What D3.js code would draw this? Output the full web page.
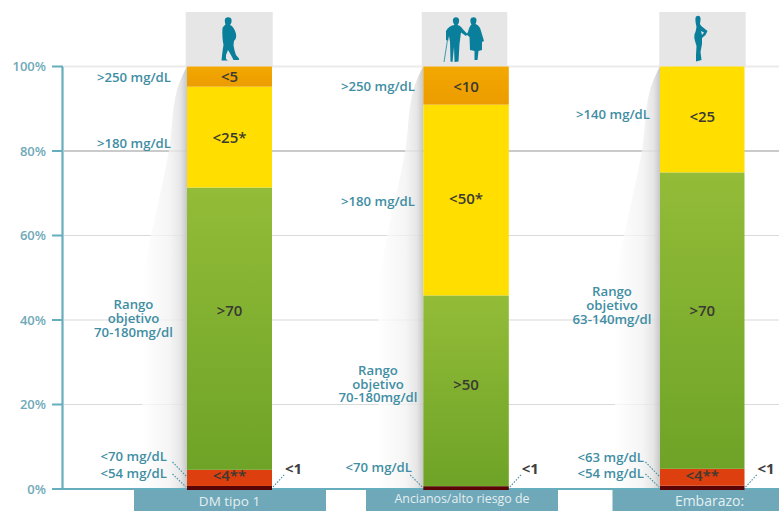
<!DOCTYPE html>
<html lang="es">
<head>
<meta charset="utf-8">
<script src="https://cdn.jsdelivr.net/npm/d3@7"></script>
<style>
html,body{margin:0;padding:0;background:#fff}
svg{display:block}
text{font-family:"Open Sans",sans-serif}
</style>
</head>
<body>
<svg id="chart" width="779" height="511"></svg>
<script>
// Time-in-range targets per patient group, listed from the lowest glucose band up.
const groups = ["DM tipo 1", "Ancianos/alto riesgo de", "Embarazo:"];
const bands = ["veryLow", "low", "target", "high", "veryHigh"];
const bandColors = ["#5a0505", "#dd3f0e", "#84ae2e", "#ffde00", "#f0a400"];

const veryLow = [1, 1, 1];
const low = [4, 0, 4];
const target = [70, 50, 70];
const high = [25, 50, 25];
const veryHigh = [5, 10, 0];

const veryLowText = ["<1", "<1", "<1"];
const lowText = ["<4**", "", "<4**"];
const targetText = [">70", ">50", ">70"];
const highText = ["<25*", "<50*", "<25"];
const veryHighText = ["<5", "<10", ""];

const yTicks = [0, 20, 40, 60, 80, 100];
const thresholdVeryHigh = [">250 mg/dL", ">250 mg/dL", ""];
const thresholdHigh = [">180 mg/dL", ">180 mg/dL", ">140 mg/dL"];
const thresholdLow = ["<70 mg/dL", "", "<63 mg/dL"];
const thresholdVeryLow = ["<54 mg/dL", "<70 mg/dL", "<54 mg/dL"];
const rangeLines = [
  ["Rango", "objetivo", "70-180mg/dl"],
  ["Rango", "objetivo", "70-180mg/dl"],
  ["Rango", "objetivo", "63-140mg/dl"]
];

const teal = "#3f8ea3", axisTeal = "#66aebd";
const svg = d3.select("#chart");

const y = d3.scaleLinear().domain([0, 1]).range([490, 66.5]);
const yPct = d3.scaleLinear().domain([0, 100]).range([489, 66.5]);
const x = d3.scaleOrdinal().domain(groups).range([187, 423.3, 660]);
const barWidths = [85, 85.5, 84.5];
const panelX = [185.7, 421.7, 659.3];
const panelW = [87, 85.6, 86.4];

// Each column is normalised to 100 %, so the "less than" targets share the height.
const rows = groups.map((g, i) => ({
  group: g, index: i, veryLow: veryLow[i], low: low[i], target: target[i], high: high[i], veryHigh: veryHigh[i]
}));
const stacked = d3.stack().keys(bands).offset(d3.stackOffsetExpand)(rows);
const texts = {veryLow: veryLowText, low: lowText, target: targetText, high: highText, veryHigh: veryHighText};

const defs = svg.append("defs");
const grad = (id, top, bottom) => {
  const g = defs.append("linearGradient").attr("id", id).attr("x1", 0).attr("x2", 0).attr("y1", 0).attr("y2", 1);
  g.append("stop").attr("offset", "0%").attr("stop-color", top);
  g.append("stop").attr("offset", "100%").attr("stop-color", bottom);
};
grad("fill-target", "#93bc38", "#6ea327");
grad("fill-veryHigh", "#f3a800", "#ec9c00");
const wedgeFade = defs.append("linearGradient").attr("id", "wedge-side");
[[0, "#ffffff", 0.8], [0.6, "#f2f2f2", 0.75], [0.85, "#e2e2e2", 0.85], [1, "#c4c4c4", 0.95]].forEach(s =>
  wedgeFade.append("stop").attr("offset", s[0]).attr("stop-color", s[1]).attr("stop-opacity", s[2]));

// Horizontal reference lines
svg.append("g").selectAll("line").data(yTicks.filter(d => d > 0)).join("line")
  .attr("x1", 64).attr("x2", 779)
  .attr("y1", d => yPct(d)).attr("y2", d => yPct(d))
  .attr("stroke", d => d === 80 ? "#b8b8b8" : d === 100 ? "#ebebeb" : "#dadada")
  .attr("stroke-width", d => d === 80 ? 1.5 : d === 100 ? 2 : 1.2);

// Shaded perspective wedge that leads the eye from each label column to its bar
const wedgeCurve = d3.line().curve(d3.curveMonotoneY);
const wedgeEdge = [[0, 66], [-10, 90], [-18, 150], [-36, 235], [-45, 278]];
const wedge = svg.append("g");
groups.forEach(g => {
  const bx = x(g);
  const edge = wedgeCurve(wedgeEdge.map(p => [bx + p[0], p[1]]));
  wedge.append("path")
    .attr("d", `${edge}L${bx - 45},489L${bx},489Z`)
    .attr("fill", "url(#wedge-side)");
});

// Value axis, kept beneath the columns so the darkest band stays visible at the foot
svg.append("path")
  .attr("d", d3.line()([[62.5, 66.5], [62.5, 489]]))
  .attr("stroke", axisTeal).attr("stroke-width", 2.2).attr("fill", "none");
svg.append("g").selectAll("line").data(yTicks).join("line")
  .attr("x1", 52).attr("x2", 63)
  .attr("y1", d => yPct(d)).attr("y2", d => yPct(d))
  .attr("stroke", axisTeal).attr("stroke-width", 2);
svg.append("line").attr("x1", 52).attr("x2", 779).attr("y1", 489).attr("y2", 489)
  .attr("stroke", axisTeal).attr("stroke-width", 2.2);
svg.append("g").attr("text-anchor", "end").attr("font-size", 13).attr("font-weight", 600)
  .attr("fill", "#6fa9b8")
  .selectAll("text").data(yTicks).join("text")
  .attr("x", 46).attr("y", d => yPct(d)).attr("dy", "0.36em")
  .text(d => d + "%");

// Group name plates below the baseline; the text continues past the frame
const plateLeft = [134, 366, 612.5];
const plateRight = [326, 558, 779];
const plateTextX = [229.5, 462, 709.5];
const plateTextY = [505.5, 503, 506];
const plateTextSize = [13.5, 12.4, 14];
groups.forEach((g, i) => {
  svg.append("rect").attr("x", plateLeft[i]).attr("y", 490)
    .attr("width", plateRight[i] - plateLeft[i]).attr("height", 21).attr("fill", "#6fa8b8");
  svg.append("text").attr("x", plateTextX[i]).attr("y", plateTextY[i])
    .attr("text-anchor", "middle").attr("font-size", plateTextSize[i]).attr("fill", "#e4eff2").text(g);
});

// Icon panels above the bars
svg.append("g").selectAll("rect").data(groups).join("rect")
  .attr("x", (d, i) => panelX[i]).attr("y", 12)
  .attr("width", (d, i) => panelW[i]).attr("height", 54)
  .attr("fill", "#e6e6e6");

// Stacked columns
const layer = svg.append("g").selectAll("g").data(stacked).join("g")
  .attr("fill", d => d.key === "target" ? "url(#fill-target)"
    : d.key === "veryHigh" ? "url(#fill-veryHigh)" : bandColors[bands.indexOf(d.key)]);
layer.selectAll("rect").data(d => d).join("rect")
  .attr("x", d => x(d.data.group))
  .attr("width", d => barWidths[d.data.index])
  .attr("y", d => y(d[1]))
  .attr("height", d => Math.max(0, y(d[0]) - y(d[1])));

// Target labels inside the segments; the smallest band is labelled outside
const insideY = {low: [476, 0, 476], target: [311, 385, 311], high: [138, 199, 117], veryHigh: [77, 87, 0]};
const inside = svg.append("g").attr("text-anchor", "middle")
  .attr("font-size", 15).attr("font-weight", 600).attr("fill", "#3a3a32");
stacked.forEach(s => {
  if (s.key === "veryLow") return;
  s.forEach((d, i) => {
    const t = texts[s.key][i];
    if (!t) return;
    inside.append("text")
      .attr("x", x(d.data.group) + barWidths[i] / 2)
      .attr("y", insideY[s.key][i])
      .attr("dy", "0.36em")
      .text(t);
  });
});

// Threshold labels beside each column
const labels = svg.append("g").attr("font-size", 13.2).attr("font-weight", 600).attr("fill", teal);
const labelRight = [171, 415, 650];
const placeLabel = (text, xPos, yPos, anchor = "end") =>
  labels.append("text").attr("x", xPos).attr("y", yPos).attr("dy", "0.36em")
    .attr("text-anchor", anchor).text(text);

const veryHighY = [77, 86, 0];
const highY = [143, 201, 114];
const lowY = [456, 0, 457];
const veryLowY = [473, 467, 473];
const lowRight = [167, 0, 644];
const veryLowRight = [167, 412, 644];
groups.forEach((g, i) => {
  if (thresholdVeryHigh[i]) placeLabel(thresholdVeryHigh[i], labelRight[i], veryHighY[i]);
  placeLabel(thresholdHigh[i], labelRight[i], highY[i]);
  if (thresholdLow[i]) placeLabel(thresholdLow[i], lowRight[i], lowY[i]);
  placeLabel(thresholdVeryLow[i], veryLowRight[i], veryLowY[i]);
});

// Target range captions, centred in the free space to the left of each column
const rangeX = [133.5, 378, 612];
const rangeY = [[304, 318, 332], [370, 384, 397], [291, 305, 319]];
rangeLines.forEach((lines, i) => lines.forEach((l, j) =>
  placeLabel(l, rangeX[i], rangeY[i][j], "middle")));

// Dotted leaders from the low-band labels to the column foot, and from the "<1" tag
const leader = svg.append("g").attr("fill", "none").attr("stroke", teal)
  .attr("stroke-width", 1.1).attr("stroke-dasharray", "1.5 1.5");
const leaderLine = d3.line();
groups.forEach((g, i) => {
  const bx = x(g), right = bx + barWidths[i];
  if (lowText[i]) {
    leader.append("path").attr("d", leaderLine([[bx - 14.5, 462], [bx - 1, 476]]));
    leader.append("path").attr("d", leaderLine([[bx - 14.5, 474], [bx - 1, 487]]));
  } else {
    leader.append("path").attr("d", leaderLine([[bx - 13, 475], [bx - 1, 487]]));
  }
  leader.append("path").attr("d", leaderLine([[right + 1, 487], [right + 13, 474]]));
  svg.append("text").attr("x", right + 13).attr("y", 469).attr("dy", "0.36em")
    .attr("font-size", 15).attr("font-weight", 700).attr("fill", "#3f3f3f").text(veryLowText[i]);
});

// Group silhouettes
const icons = svg.append("g").attr("fill", "#0a7f9b");
icons.append("path").attr("d", "M225 19C226 16.5 231 16.5 231.5 19.5C232 22 231 24 230 25C233 26 235 30 236 34C236.5 37 236 39 234 41L233.5 45C234 49 235 52 236 55L239 58.5L239 60L233.5 60C232 57 230 53 228 50L226 55L226 59L228 60.5L221.5 60.5C222 56 222.5 50 223.5 45C222.5 40 222 33 222.5 28C223.5 26 225 25 225.5 24.5C225 23 224.5 21 225 19Z");
icons.append("path").attr("d", "M453 19.5C453.5 16.5 458.5 16.5 459 19.5C459.5 22 458.5 24 457.5 25C460.5 25.5 462 28 463.5 30L467.5 34L466 36L461 32.5L459.5 44L458.5 61.5L454.5 62L454 47L452.5 62L450.5 61.5L450 42L449 36L448 41L446 40L446 31C448 27 451 25.5 454.5 25C453.5 23.5 452.5 21.5 453 19.5Z");
icons.append("path").attr("d", "M470.5 19.5C471 16.5 476 16.5 476.5 19.5C476.5 21.5 476 23 475.5 24C478.5 25 480 27 481 31L484 41L482 42L482 50L478.5 51L477.5 60L474.5 60L474.5 51L470 50L469.5 37L466.5 34.5L468 32C469 28 470 25.5 471.5 24.5C470.5 23 470 21 470.5 19.5Z");
icons.append("path").attr("d", "M447.5 40L444 62").attr("fill", "none").attr("stroke", "#3c9ab0").attr("stroke-width", 1);
icons.append("path").attr("d", "M695.5 18C696 15 700 15 700.5 18C700.8 20.5 700 22 700 24C700.5 26 703 27 705 29L707.5 31L705.5 35L702 38L702 44L700.5 52L701.5 60L696 61.5L696 55L696.5 46L695 41C694 38 694 34 695.5 32L696.5 27C696 24 695 21 695.5 18ZM701 31L702 35L704 32.5Z");
</script>
</body>
</html>
